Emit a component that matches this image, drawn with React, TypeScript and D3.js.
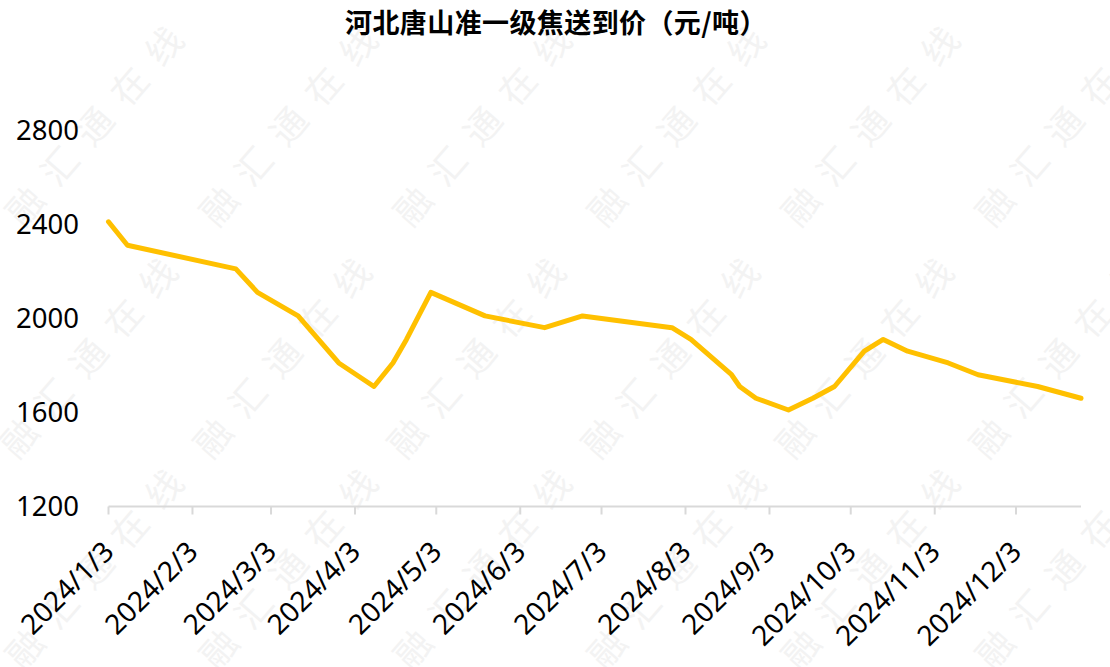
import React from "react";
import * as d3 from "d3";

const TITLE = "河北唐山准一级焦送到价（元/吨）";
const WATERMARK = "融汇通在线";

const dates: string[] = [
  "2024-01-03", "2024-01-10", "2024-02-19", "2024-02-27", "2024-03-13",
  "2024-03-28", "2024-04-10", "2024-04-17", "2024-04-22", "2024-05-01",
  "2024-05-21", "2024-06-12", "2024-06-26", "2024-07-29", "2024-08-05",
  "2024-08-10", "2024-08-20", "2024-08-23", "2024-08-29", "2024-09-10",
  "2024-09-19", "2024-09-27", "2024-10-08", "2024-10-15", "2024-10-24",
  "2024-11-08", "2024-11-19", "2024-12-11", "2024-12-27",
];
const prices: number[] = [
  2410, 2310, 2210, 2110, 2010,
  1810, 1710, 1810, 1910, 2110,
  2010, 1960, 2010, 1960, 1910,
  1860, 1760, 1710, 1660, 1610,
  1660, 1710, 1860, 1910, 1860,
  1810, 1760, 1710, 1660,
];
const xTickDates: string[] = [
  "2024-01-03", "2024-02-03", "2024-03-03", "2024-04-03", "2024-05-03", "2024-06-03",
  "2024-07-03", "2024-08-03", "2024-09-03", "2024-10-03", "2024-11-03", "2024-12-03",
];
const xTickLabels: string[] = [
  "2024/1/3", "2024/2/3", "2024/3/3", "2024/4/3", "2024/5/3", "2024/6/3",
  "2024/7/3", "2024/8/3", "2024/9/3", "2024/10/3", "2024/11/3", "2024/12/3",
];
const yTicks: number[] = [1200, 1600, 2000, 2400, 2800];

const W = 1110;
const H = 667;
const parse = d3.timeParse("%Y-%m-%d");

export default function App() {
  const series = dates.map((d, i) => ({ date: parse(d) as Date, value: prices[i] }));
  const x = d3
    .scaleTime()
    .domain([parse("2024-01-03") as Date, parse("2024-12-27") as Date])
    .range([108.5, 1081]);
  const y = d3.scaleLinear().domain([1200, 2800]).range([506.5, 130]);
  const line = d3
    .line<{ date: Date; value: number }>()
    .x((d) => x(d.date))
    .y((d) => y(d.value));

  const font = "'Noto Sans', 'Open Sans', sans-serif";
  const wmRows = [118, 350, 561];
  const wmCols = [98, 292, 486, 680, 874, 1068];

  return (
    <svg
      width={W}
      height={H}
      viewBox={`0 0 ${W} ${H}`}
      style={{ position: "absolute", left: 0, top: 0, display: "block", background: "#fff" }}
    >
      <rect x={0} y={0} width={W} height={H} fill="#ffffff" />
      <g>
        {wmRows.map((ry, ri) =>
          wmCols.map((cx, ci) => {
            const wx = cx - (ri === 1 ? 6 : 0);
            return (
              <text
                key={`wm-${ri}-${ci}`}
                x={wx}
                y={ry}
                transform={`rotate(-49 ${wx} ${ry})`}
                textAnchor="middle"
                dominantBaseline="central"
                fontFamily="'Noto Sans CJK SC', sans-serif"
                fontSize={36}
                letterSpacing={17}
                fill="#f3f3f3"
              >
                {WATERMARK}
              </text>
            );
          })
        )}
      </g>

      <text
        x={556}
        y={33}
        textAnchor="middle"
        fontFamily="'Noto Sans CJK SC', sans-serif"
        fontWeight="bold"
        fontSize={27}
        letterSpacing={0.4}
        fill="#000"
      >
        {TITLE}
      </text>

      {yTicks.map((t) => (
        <text
          key={`y-${t}`}
          x={79}
          y={y(t) + 9.8}
          textAnchor="end"
          fontFamily={font}
          fontSize={27.5}
          fill="#000"
        >
          {t}
        </text>
      ))}

      <line x1={x.range()[0]} x2={x.range()[1]} y1={y(1200)} y2={y(1200)} stroke="#d9d9d9" strokeWidth={2} />
      {xTickDates.map((d, i) => {
        const px = x(parse(d) as Date);
        const ax = px + 7;
        const ay = y(1200) + 47;
        return (
          <g key={`xt-${i}`}>
            <line x1={px} x2={px} y1={y(1200)} y2={y(1200) + 8} stroke="#d9d9d9" strokeWidth={2} />
            <text
              x={ax}
              y={ay}
              transform={`rotate(-45 ${ax} ${ay})`}
              textAnchor="end"
              fontFamily={font}
              fontSize={28}
              fill="#000"
            >
              {xTickLabels[i]}
            </text>
          </g>
        );
      })}

      <path
        d={line(series) || ""}
        fill="none"
        stroke="#FFC000"
        strokeWidth={5}
        strokeLinejoin="round"
        strokeLinecap="round"
      />
    </svg>
  );
}
